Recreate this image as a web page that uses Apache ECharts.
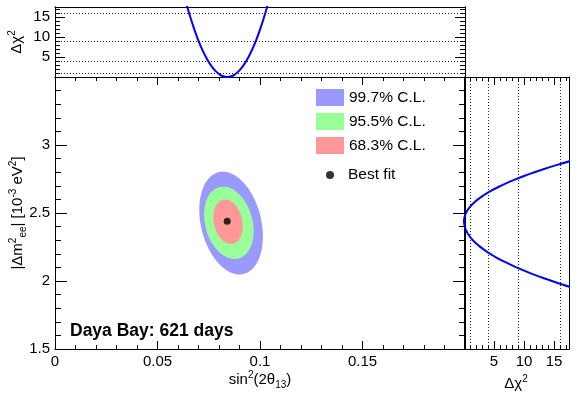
<!DOCTYPE html>
<html>
<head>
<meta charset="utf-8">
<script src="https://cdn.jsdelivr.net/npm/echarts@6/dist/echarts.min.js"></script>
<style>
  html, body { margin: 0; padding: 0; background: #fff; }
  #chart { width: 581px; height: 394px; }
</style>
</head>
<body>
<div id="chart"></div>
<script>
// top panel: delta chi2 vs sin^2(2theta13)
const sinValues = [0.062, 0.064, 0.066, 0.068, 0.070, 0.072, 0.074, 0.076, 0.078, 0.080, 0.082,
  0.084, 0.086, 0.088, 0.090, 0.092, 0.094, 0.096, 0.098, 0.100, 0.102, 0.104, 0.106];
const sinChi2 = [22.4, 18.5, 14.98, 11.84, 9.06, 6.66, 4.62, 2.96, 1.66, 0.74, 0.18,
  0, 0.18, 0.74, 1.66, 2.96, 4.62, 6.66, 9.06, 11.84, 14.98, 18.5, 22.4];

// right panel: delta chi2 vs |dm2_ee|
const dmValues = [1.90, 1.94, 1.98, 2.02, 2.06, 2.10, 2.14, 2.18, 2.22, 2.26, 2.30, 2.34, 2.38, 2.42, 2.44,
  2.46, 2.50, 2.54, 2.58, 2.62, 2.66, 2.70, 2.74, 2.78, 2.82, 2.86, 2.90];
const dmChi2 = [22.05, 18.9, 16.0, 13.34, 10.92, 8.74, 6.81, 5.11, 3.66, 2.45, 1.48, 0.76, 0.27, 0.03, 0,
  0.04, 0.33, 0.91, 1.78, 2.94, 4.39, 6.13, 8.16, 10.49, 13.1, 16.0, 19.19];

// confidence contours (centre, half widths, correlation)
const clNames = ['99.7% C.L.', '95.5% C.L.', '68.3% C.L.'];
const clColors = ['#9999ff', '#99ff99', '#ff9999'];
const clCx = [0.0859, 0.0848, 0.0844];
const clCy = [2.426, 2.428, 2.436];
const clHx = [0.0155, 0.0121, 0.0072];
const clHy = [0.378, 0.266, 0.164];
const clRho = [-0.26, -0.23, -0.2];

const bestFit = [0.084, 2.44];
const chi2Levels = [1, 4, 9, 16];

const FONT = 'Liberation Sans, Arial, Helvetica, sans-serif';
const black = '#000';

const rich = {
  n: { fontSize: 15, fontFamily: FONT, fill: black, lineHeight: 20 },
  sup: { fontSize: 10, fontFamily: FONT, fill: black, lineHeight: 11, verticalAlign: 'top' },
  sub: { fontSize: 10, fontFamily: FONT, fill: black, lineHeight: 10, verticalAlign: 'bottom' }
};

// axis with inside ticks; labels: false, true or 'noMin'
function tickAxis(gridIndex, position, min, max, interval, len, minorLen, labels) {
  const label = { show: false };
  if (labels) {
    Object.assign(label, { show: true, fontSize: 15, fontFamily: FONT, color: black, margin: 5, showMaxLabel: false });
    if (labels === 'noMin') label.showMinLabel = false;
  }
  return {
    type: 'value', gridIndex, position, min, max, interval,
    axisLine: { show: true, onZero: false, lineStyle: { color: black, width: 1 } },
    axisTick: { show: len > 0, inside: true, length: len || 1, lineStyle: { color: black } },
    minorTick: { show: minorLen > 0, splitNumber: 5, length: minorLen || 1, lineStyle: { color: black } },
    axisLabel: label,
    splitLine: { show: false }
  };
}

const xAxes = [
  tickAxis(0, 'bottom', 0, 0.2, 0.05, 8, 4, true),
  tickAxis(0, 'top', 0, 0.2, 0.05, 8, 4, false),
  tickAxis(1, 'bottom', 0, 0.2, 0.05, 0, 0, false),
  tickAxis(1, 'top', 0, 0.2, 0.05, 0, 0, false),
  tickAxis(2, 'bottom', 0, 17.5, 1, 4, 0, false),
  tickAxis(2, 'bottom', 0, 17.5, 5, 8, 0, 'noMin'),
  tickAxis(2, 'top', 0, 17.5, 1, 4, 0, false),
  tickAxis(2, 'top', 0, 17.5, 5, 8, 0, false)
];

const yAxes = [
  tickAxis(0, 'left', 1.5, 3.5, 0.5, 12, 6, true),
  tickAxis(0, 'right', 1.5, 3.5, 0.5, 12, 6, false),
  tickAxis(1, 'left', 0, 17.5, 1, 5, 0, false),
  tickAxis(1, 'left', 0, 17.5, 5, 10, 0, 'noMin'),
  tickAxis(1, 'right', 0, 17.5, 1, 5, 0, false),
  tickAxis(1, 'right', 0, 17.5, 5, 10, 0, false),
  tickAxis(2, 'left', 1.5, 3.5, 0.5, 0, 0, false),
  tickAxis(2, 'right', 1.5, 3.5, 0.5, 0, 0, false)
];

// axis titles as rich text
const axisTitle = (text, x, y, rotated) => ({
  type: 'text', x, y, rotation: rotated ? Math.PI / 2 : 0, silent: true,
  style: { text, rich, align: 'center', verticalAlign: 'middle', fontSize: 15, fontFamily: FONT, fill: black }
});

const levelLine = (axis) => ({
  silent: true, symbol: 'none', label: { show: false },
  lineStyle: { color: '#222', type: [1, 2], width: 1 },
  data: chi2Levels.map(v => ({ [axis]: v }))
});

const contourSeries = clNames.map((name, i) => ({
  name, type: 'custom', xAxisIndex: 0, yAxisIndex: 0,
  itemStyle: { color: clColors[i] },
  encode: { x: 0, y: 1 },
  data: [[clCx[i], clCy[i], clHx[i], clHy[i], clRho[i]]],
  renderItem: (params, api) => {
    const cx = api.value(0), cy = api.value(1), hx = api.value(2), hy = api.value(3), r = api.value(4);
    const pts = [];
    for (let k = 0; k < 120; k++) {
      const t = 2 * Math.PI * k / 120;
      pts.push(api.coord([cx + hx * Math.cos(t), cy + hy * (r * Math.cos(t) + Math.sqrt(1 - r * r) * Math.sin(t))]));
    }
    return { type: 'polygon', shape: { points: pts }, style: { fill: api.visual('color') } };
  }
}));

const chart = echarts.init(document.getElementById('chart'), null, { renderer: 'canvas' });

chart.setOption({
  animation: false,
  backgroundColor: '#fff',
  textStyle: { fontFamily: FONT },
  title: {
    text: 'Daya Bay: 621 days', left: 70, top: 322, padding: 0,
    textStyle: { fontSize: 17.5, fontWeight: 'bold', fontFamily: FONT, color: black }
  },
  grid: [
    { outerBoundsMode: 'none', left: 55, top: 77, width: 410, height: 272 },
    { outerBoundsMode: 'none', left: 55, top: 7, width: 410, height: 70 },
    { outerBoundsMode: 'none', left: 464, top: 77, width: 105, height: 272 }
  ],
  legend: [
    {
      data: clNames, orient: 'vertical', left: 316, top: 89, padding: 0,
      itemWidth: 28, itemHeight: 17, itemGap: 7, icon: 'rect', selectedMode: false,
      textStyle: { fontSize: 15.5, fontFamily: FONT, color: black }
    },
    {
      data: [{ name: 'Best fit', icon: 'circle' }], orient: 'vertical', left: 326, top: 167, padding: 0,
      itemWidth: 8, itemHeight: 8, itemGap: 0, selectedMode: false,
      textStyle: { fontSize: 15.5, fontFamily: FONT, color: black, padding: [0, 0, 0, 9] }
    }
  ],
  graphic: [
    axisTitle('{n|sin}{sup|2}{n|(2θ}{sub|13}{n|)}', 260, 380, false),
    axisTitle('{n||Δm}{sup|2}{sub|ee}{n|| [10}{sup|-3}{n| eV}{sup|2}{n|]}', 18, 213, true),
    axisTitle('{n|Δχ}{sup|2}', 17, 42, true),
    axisTitle('{n|Δχ}{sup|2}', 516, 384, false)
  ],
  xAxis: xAxes,
  yAxis: yAxes,
  series: [
    ...contourSeries,
    {
      name: 'Best fit', type: 'scatter', xAxisIndex: 0, yAxisIndex: 0,
      symbol: 'circle', symbolSize: 7, itemStyle: { color: black },
      data: [bestFit]
    },
    {
      type: 'line', xAxisIndex: 2, yAxisIndex: 2, smooth: true, showSymbol: false,
      lineStyle: { color: '#0000ff', width: 2 }, clip: true,
      data: sinValues.map((v, i) => [v, sinChi2[i]]),
      markLine: levelLine('yAxis')
    },
    {
      type: 'line', xAxisIndex: 4, yAxisIndex: 6, smooth: true, showSymbol: false,
      lineStyle: { color: '#0000ff', width: 2 }, clip: true,
      data: dmValues.map((v, i) => [dmChi2[i], v]),
      markLine: levelLine('xAxis')
    }
  ]
});

window.addEventListener('resize', () => chart.resize());
</script>
</body>
</html>
